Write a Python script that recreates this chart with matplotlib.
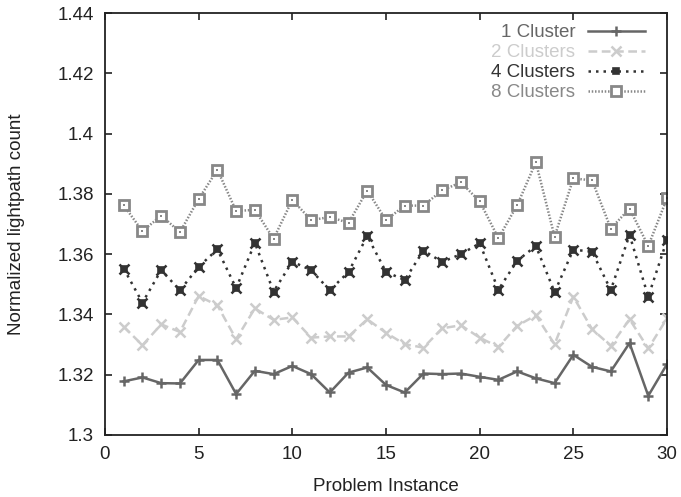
import matplotlib
matplotlib.use("Agg")
import matplotlib.pyplot as plt
from matplotlib.ticker import FixedLocator

plt.rcParams['font.family'] = ['Liberation Sans', 'DejaVu Sans']

instances = list(range(1, 31))

cluster1 = [1.3178, 1.3191, 1.3172, 1.3171, 1.3249, 1.3249, 1.3136, 1.3213, 1.3202, 1.3229,
            1.3202, 1.3141, 1.3207, 1.3224, 1.3166, 1.3141, 1.3204, 1.3202, 1.3204, 1.3193,
            1.3183, 1.3211, 1.3188, 1.3172, 1.3266, 1.3226, 1.3211, 1.3305, 1.3130, 1.3235]
cluster2 = [1.3359, 1.3298, 1.3367, 1.3342, 1.3461, 1.3430, 1.3318, 1.3420, 1.3382, 1.3390,
            1.3323, 1.3327, 1.3327, 1.3384, 1.3339, 1.3301, 1.3290, 1.3354, 1.3364, 1.3323,
            1.3292, 1.3362, 1.3397, 1.3301, 1.3459, 1.3351, 1.3296, 1.3384, 1.3287, 1.3387]
cluster4 = [1.3552, 1.3439, 1.3547, 1.3480, 1.3558, 1.3616, 1.3487, 1.3637, 1.3476, 1.3575,
            1.3547, 1.3480, 1.3541, 1.3660, 1.3541, 1.3514, 1.3612, 1.3574, 1.3600, 1.3636,
            1.3482, 1.3578, 1.3627, 1.3474, 1.3615, 1.3608, 1.3481, 1.3664, 1.3459, 1.3647]
cluster8 = [1.3762, 1.3676, 1.3728, 1.3673, 1.3783, 1.3880, 1.3743, 1.3747, 1.3651, 1.3780,
            1.3713, 1.3723, 1.3704, 1.3811, 1.3713, 1.3761, 1.3761, 1.3812, 1.3838, 1.3775,
            1.3653, 1.3762, 1.3905, 1.3658, 1.3851, 1.3845, 1.3685, 1.3751, 1.3627, 1.3785]

labels = ["1 Cluster", "2 Clusters", "4 Clusters", "8 Clusters"]
x_ticks = [0, 5, 10, 15, 20, 25, 30]
y_ticks = [1.3, 1.32, 1.34, 1.36, 1.38, 1.4, 1.42, 1.44]
y_ticklabels = ["1.3", "1.32", "1.34", "1.36", "1.38", "1.4", "1.42", "1.44"]

c1, c2, c4, c8 = "#666666", "#cccccc", "#333333", "#888888"
fs = 13.5

fig = plt.figure(figsize=(6.81, 4.97), dpi=100)
ax = fig.add_axes([105/681, 62/497, 562/681, 422/497])

lw = 1.8
ax.plot(instances, cluster1, color=c1, lw=lw, ls='-', marker='+', ms=7, mew=1.8,
        label=labels[0])
ax.plot(instances, cluster2, color=c2, lw=lw, ls=(0, (3.5, 1.8)), marker='x', ms=6.5, mew=1.8,
        label=labels[1])
ax.plot(instances, cluster4, color=c4, lw=lw, ls=(0, (1, 2)), marker='s', ms=5, mew=1.2,
        mfc=c4, mec=c4, label=labels[2])
ax.plot(instances, cluster4, color=c4, lw=0, marker='x', ms=7, mew=1.8)
ax.plot(instances, cluster8, color=c8, lw=lw, ls=(0, (0.6, 0.7)), marker='s', ms=6.5, mew=2,
        mfc='white', mec=c8, label=labels[3])
ax.plot(instances, cluster8, color=c8, lw=0, marker='s', ms=1.8, mew=0, mfc=c8)

ax.set_xlim(0, 30)
ax.set_ylim(1.3, 1.44)
ax.xaxis.set_major_locator(FixedLocator(x_ticks))
ax.set_yticks(y_ticks)
ax.set_yticklabels(y_ticklabels)
ax.tick_params(direction='in', length=5, width=1.2, top=True, right=True,
               labelsize=fs, colors='#222222', pad=8)
for s in ax.spines.values():
    s.set_linewidth(1.3)
    s.set_color('#222222')

ax.set_xlabel("Problem Instance", fontsize=fs, color='#222222', labelpad=11)
ax.set_ylabel("Normalized lightpath count", fontsize=fs, color='#222222', labelpad=23)

leg = ax.legend(loc='upper right', frameon=False, markerfirst=False, fontsize=fs,
                handlelength=3.0, handletextpad=0.7, labelspacing=0.15,
                borderaxespad=0.2, bbox_to_anchor=(0.98, 1.0))
for txt, col in zip(leg.get_texts(), [c1, c2, c4, c8]):
    txt.set_color(col)
vp = leg._legend_box.get_children()[1]
vp.align = 'right'
for c in vp.get_children():
    c.align = 'right'

fig.savefig("out.png", dpi=100)
